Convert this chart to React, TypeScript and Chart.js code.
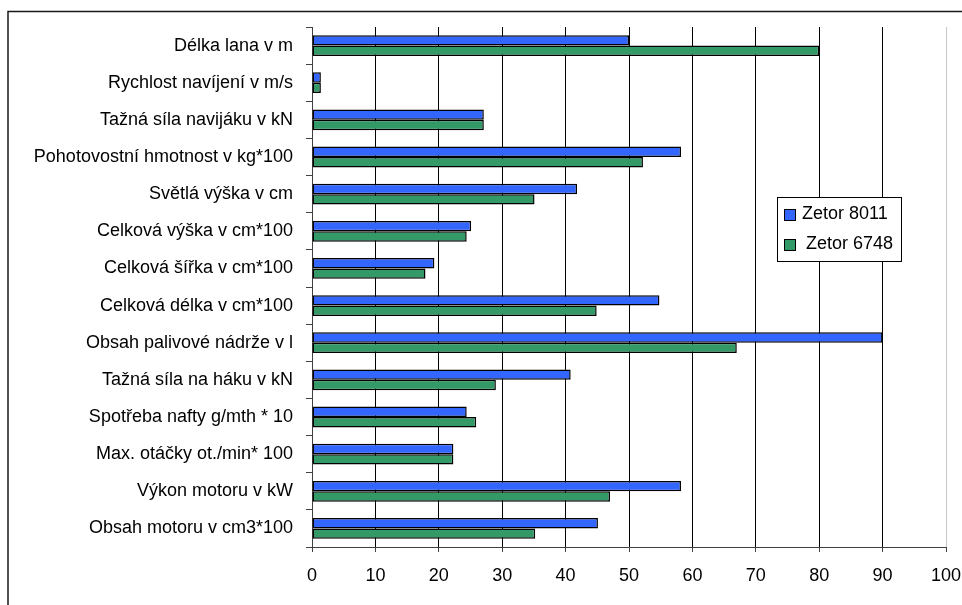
import React, { useEffect, useRef } from 'react';
import { Chart, registerables } from 'chart.js';

Chart.register(...registerables);

const categories = [
  'Délka lana v m',
  'Rychlost navíjení v m/s',
  'Tažná síla navijáku v kN',
  'Pohotovostní hmotnost v kg*100',
  'Světlá výška v cm',
  'Celková výška v cm*100',
  'Celková šířka v cm*100',
  'Celková délka v cm*100',
  'Obsah palivové nádrže v l',
  'Tažná síla na háku v kN',
  'Spotřeba nafty g/mth * 10',
  'Max. otáčky ot./min* 100',
  'Výkon motoru v kW',
  'Obsah motoru v cm3*100',
];

const zetor8011 = [50, 1.4, 27.1, 58.2, 41.8, 25.1, 19.3, 54.8, 90, 40.8, 24.4, 22.3, 58.2, 45.1];
const zetor6748 = [80, 1.4, 27.1, 52.2, 35.1, 24.4, 17.9, 44.9, 67, 29, 25.9, 22.3, 47, 35.2];

const seriesNames = ['Zetor 8011', 'Zetor 6748'];
const seriesColors = ['#3366FF', '#339966'];

const xMin = 0;
const xMax = 100;
const xStep = 10;

const FONT = "'Liberation Sans', Arial, sans-serif";

const framePlugin = {
  id: 'framePlugin',
  beforeDraw(chart: any) {
    const ctx = chart.ctx;
    ctx.save();
    ctx.fillStyle = '#ffffff';
    ctx.fillRect(0, 0, chart.width, chart.height);
    ctx.strokeStyle = '#1a1a1a';
    ctx.lineWidth = 1.5;
    ctx.beginPath();
    ctx.moveTo(8, chart.height + 2);
    ctx.lineTo(8, 11.5);
    ctx.lineTo(chart.width + 2, 11.5);
    ctx.stroke();
    ctx.restore();
  },
  afterDraw(chart: any) {
    const ctx = chart.ctx;
    const bx = 777.5;
    const by = 197.5;
    const bw = 124;
    const bh = 64;
    ctx.save();
    ctx.fillStyle = '#ffffff';
    ctx.fillRect(bx, by, bw, bh);
    ctx.strokeStyle = '#000000';
    ctx.lineWidth = 1;
    ctx.strokeRect(bx, by, bw, bh);
    ctx.font = `18px ${FONT}`;
    ctx.textBaseline = 'middle';
    ctx.textAlign = 'left';
    const rows = [
      { sy: 209.5, ty: 214, tx: 802 },
      { sy: 239.5, ty: 244, tx: 806 },
    ];
    chart.data.datasets.forEach((ds: any, i: number) => {
      const r = rows[i];
      ctx.fillStyle = ds.backgroundColor;
      ctx.fillRect(784.5, r.sy, 11, 11);
      ctx.strokeStyle = '#000';
      ctx.strokeRect(784.5, r.sy, 11, 11);
      ctx.fillStyle = '#000';
      ctx.fillText(ds.label, r.tx, r.ty);
    });
    ctx.restore();
  },
};

export default function App() {
  const ref = useRef<HTMLCanvasElement | null>(null);

  useEffect(() => {
    if (!ref.current) return;
    const chart = new Chart(ref.current, {
      type: 'bar',
      data: {
        labels: categories,
        datasets: [
          {
            label: seriesNames[0],
            data: zetor8011,
            backgroundColor: seriesColors[0],
            borderColor: '#000000',
            borderWidth: 1.5,
            borderSkipped: false,
            categoryPercentage: 0.56,
            barPercentage: 1,
          },
          {
            label: seriesNames[1],
            data: zetor6748,
            backgroundColor: seriesColors[1],
            borderColor: '#000000',
            borderWidth: 1.5,
            borderSkipped: false,
            categoryPercentage: 0.56,
            barPercentage: 1,
          },
        ],
      },
      options: {
        indexAxis: 'y',
        responsive: false,
        animation: false,
        devicePixelRatio: 1,
        layout: { padding: { left: 0, top: 27, right: 16, bottom: 0 } },
        plugins: {
          legend: { display: false },
          tooltip: { enabled: false },
        },
        scales: {
          x: {
            type: 'linear',
            position: 'bottom',
            min: xMin,
            max: xMax,
            ticks: {
              stepSize: xStep,
              color: '#000',
              font: { family: FONT, size: 18 },
              padding: 13,
              maxRotation: 0,
            },
            grid: {
              color: (c: any) => (c.tick && c.tick.value === xMax ? '#c8c8c8' : '#000000'),
              tickColor: '#404040',
              tickLength: 5,
              lineWidth: 1,
            },
            border: { color: '#404040', width: 1 },
            afterFit: (s: any) => {
              s.height = 58;
              s.paddingRight = 0;
              s.paddingLeft = 0;
            },
          },
          y: {
            type: 'category',
            ticks: {
              color: '#000',
              font: { family: FONT, size: 18 },
              padding: 13,
              autoSkip: false,
            },
            grid: {
              offset: true,
              drawOnChartArea: false,
              tickColor: '#404040',
              tickLength: 6,
            },
            border: { color: '#404040', width: 1 },
            afterFit: (s: any) => {
              s.width = 312;
              s.paddingTop = 0;
              s.paddingBottom = 0;
            },
          },
        },
      },
      plugins: [framePlugin],
    });
    return () => chart.destroy();
  }, []);

  return (
    <div style={{ position: 'fixed', left: 0, top: 0, width: 962, height: 605, background: '#fff' }}>
      <canvas ref={ref} width={962} height={605} style={{ display: 'block' }} />
    </div>
  );
}
